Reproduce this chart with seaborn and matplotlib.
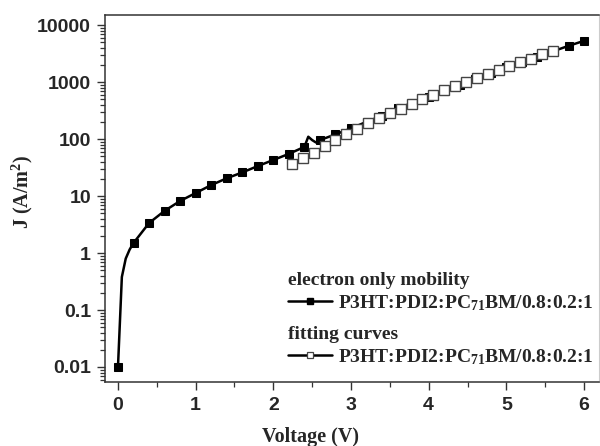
import matplotlib
matplotlib.use("Agg")
import matplotlib.pyplot as plt
from matplotlib.lines import Line2D
from matplotlib.ticker import FixedLocator, FuncFormatter, LogLocator, MultipleLocator
import pandas as pd
import seaborn as sns

# electron-only device J-V data (markers only on the 0.2 V points)
electron_v = [0.0, 0.05, 0.1, 0.15, 0.2, 0.4, 0.6, 0.8, 1.0, 1.2, 1.4, 1.6, 1.8, 2.0,
              2.2, 2.4, 2.45, 2.5, 2.55, 2.6, 2.8, 3.0, 3.2, 3.4, 3.6, 3.8, 4.0, 4.2,
              4.4, 4.6, 4.8, 5.0, 5.2, 5.4, 5.6, 5.8, 6.0]
electron_j = [0.01, 0.38, 0.8, 1.15, 1.5, 3.36, 5.5, 8.2, 11.3, 15.6, 20.5, 26, 33.6, 43,
              55, 73, 110, 96, 87, 96, 121, 154, 201, 257, 346, 437, 552, 701,
              886, 1137, 1456, 1855, 2270, 2780, 3470, 4330, 5300]
electron_marked = [0.0, 0.2, 0.4, 0.6, 0.8, 1.0, 1.2, 1.4, 1.6, 1.8, 2.0, 2.2, 2.4, 2.6,
                   2.8, 3.0, 3.2, 3.4, 3.6, 3.8, 4.0, 4.2, 4.4, 4.6, 4.8, 5.0, 5.2, 5.4,
                   5.6, 5.8, 6.0]

# fitting curve
fit_v = [2.24, 2.38, 2.52, 2.66, 2.80, 2.94, 3.08, 3.22, 3.36, 3.50, 3.64, 3.78, 3.92,
         4.06, 4.20, 4.34, 4.48, 4.62, 4.76, 4.90, 5.04, 5.18, 5.32, 5.46, 5.60]
fit_j = [36.4, 45.8, 57.5, 75.4, 96, 121, 150, 188, 237, 282, 336, 417, 504,
         592, 715, 851, 1000, 1175, 1381, 1624, 1884, 2214, 2565, 3055, 3497]

y_ticks = [0.01, 0.1, 1, 10, 100, 1000, 10000]
y_tick_labels = ["0.01", "0.1", "1", "10", "100", "1000", "10000"]

label_series = "P3HT:PDI2:PC$_{71}$BM/0.8:0.2:1"

sns.set_style("ticks")
plt.rcParams["font.family"] = ["Liberation Serif", "DejaVu Serif"]
plt.rcParams["mathtext.fontset"] = "custom"
plt.rcParams["mathtext.rm"] = "Liberation Serif:bold"
plt.rcParams["mathtext.it"] = "Liberation Serif:bold"
plt.rcParams["mathtext.bf"] = "Liberation Serif:bold"

electron = pd.DataFrame({"v": electron_v, "j": electron_j})
fit = pd.DataFrame({"v": fit_v, "j": fit_j})
mark_idx = [electron_v.index(v) for v in electron_marked]

fig = plt.figure(figsize=(6.0, 4.46), dpi=100)
ax = fig.add_axes([0.175, 0.1435, 0.823, 0.8225])

sns.lineplot(data=electron, x="v", y="j", ax=ax, sort=False, estimator=None,
             color="black", linewidth=1.8, marker="s", markersize=6,
             markevery=mark_idx, markerfacecolor="black", markeredgecolor="black",
             zorder=2)
sns.lineplot(data=fit, x="v", y="j", ax=ax, sort=False, estimator=None,
             color="black", linewidth=1.5, marker="s", markersize=6.5,
             markerfacecolor="white", markeredgecolor="#444444", markeredgewidth=1.0,
             zorder=3)

ax.set_yscale("log")
ax.set_xlim(-0.167, 6.19)
ax.set_ylim(0.00545, 14970)

ax.xaxis.set_major_locator(MultipleLocator(1))
ax.xaxis.set_minor_locator(MultipleLocator(0.5))
ax.yaxis.set_major_locator(FixedLocator(y_ticks))
ax.yaxis.set_major_formatter(FuncFormatter(lambda val, pos: y_tick_labels[y_ticks.index(val)] if val in y_ticks else ""))
ax.yaxis.set_minor_locator(LogLocator(base=10, subs=range(2, 10)))
ax.yaxis.set_minor_formatter(FuncFormatter(lambda val, pos: ""))

for lab in ax.get_xticklabels() + ax.get_yticklabels():
    lab.set_fontfamily("Liberation Sans")
    lab.set_fontweight("bold")
    lab.set_fontsize(14)

ax.tick_params(axis="both", which="major", direction="out", length=5.5, width=1.0,
               color="#333333", pad=4.5)
ax.tick_params(axis="both", which="minor", direction="out", length=3.5, width=0.9,
               color="#333333")
ax.tick_params(axis="x", which="major", pad=5.0)

for side in ["left", "bottom", "top"]:
    ax.spines[side].set_color("#333333")
    ax.spines[side].set_linewidth(1.1)
ax.spines["right"].set_color("#cccccc")
ax.spines["right"].set_linewidth(0.8)

ax.set_xlabel("Voltage (V)", fontsize=14.5, fontweight="bold")
ax.set_ylabel("J (A/m$^2$)", fontsize=14.5, fontweight="bold")
ax.xaxis.set_label_coords((311 - 105) / 494, -0.123)
ax.yaxis.set_label_coords(-0.142, 0.518)

h_el = Line2D([], [], color="black", linewidth=1.8, marker="s", markersize=4,
              markerfacecolor="black", markeredgecolor="black")
h_fit = Line2D([], [], color="black", linewidth=1.8, marker="s", markersize=4.5,
               markerfacecolor="white", markeredgecolor="#444444", markeredgewidth=0.9)

leg_kw = dict(frameon=False, loc="upper left", borderaxespad=0, borderpad=0,
              handlelength=2.3, handletextpad=0.3, alignment="left", labelspacing=0.22,
              prop={"family": "Liberation Serif", "weight": "bold", "size": 14},
              title_fontproperties={"family": "Liberation Serif", "weight": "bold", "size": 14})
leg1 = ax.legend([h_el], [label_series], title="electron only mobility",
                 bbox_to_anchor=(0.37, 0.30), **leg_kw)
ax.add_artist(leg1)
ax.legend([h_fit], [label_series], title="fitting curves",
          bbox_to_anchor=(0.37, 0.153), **leg_kw)

fig.savefig("out.png", dpi=100)
